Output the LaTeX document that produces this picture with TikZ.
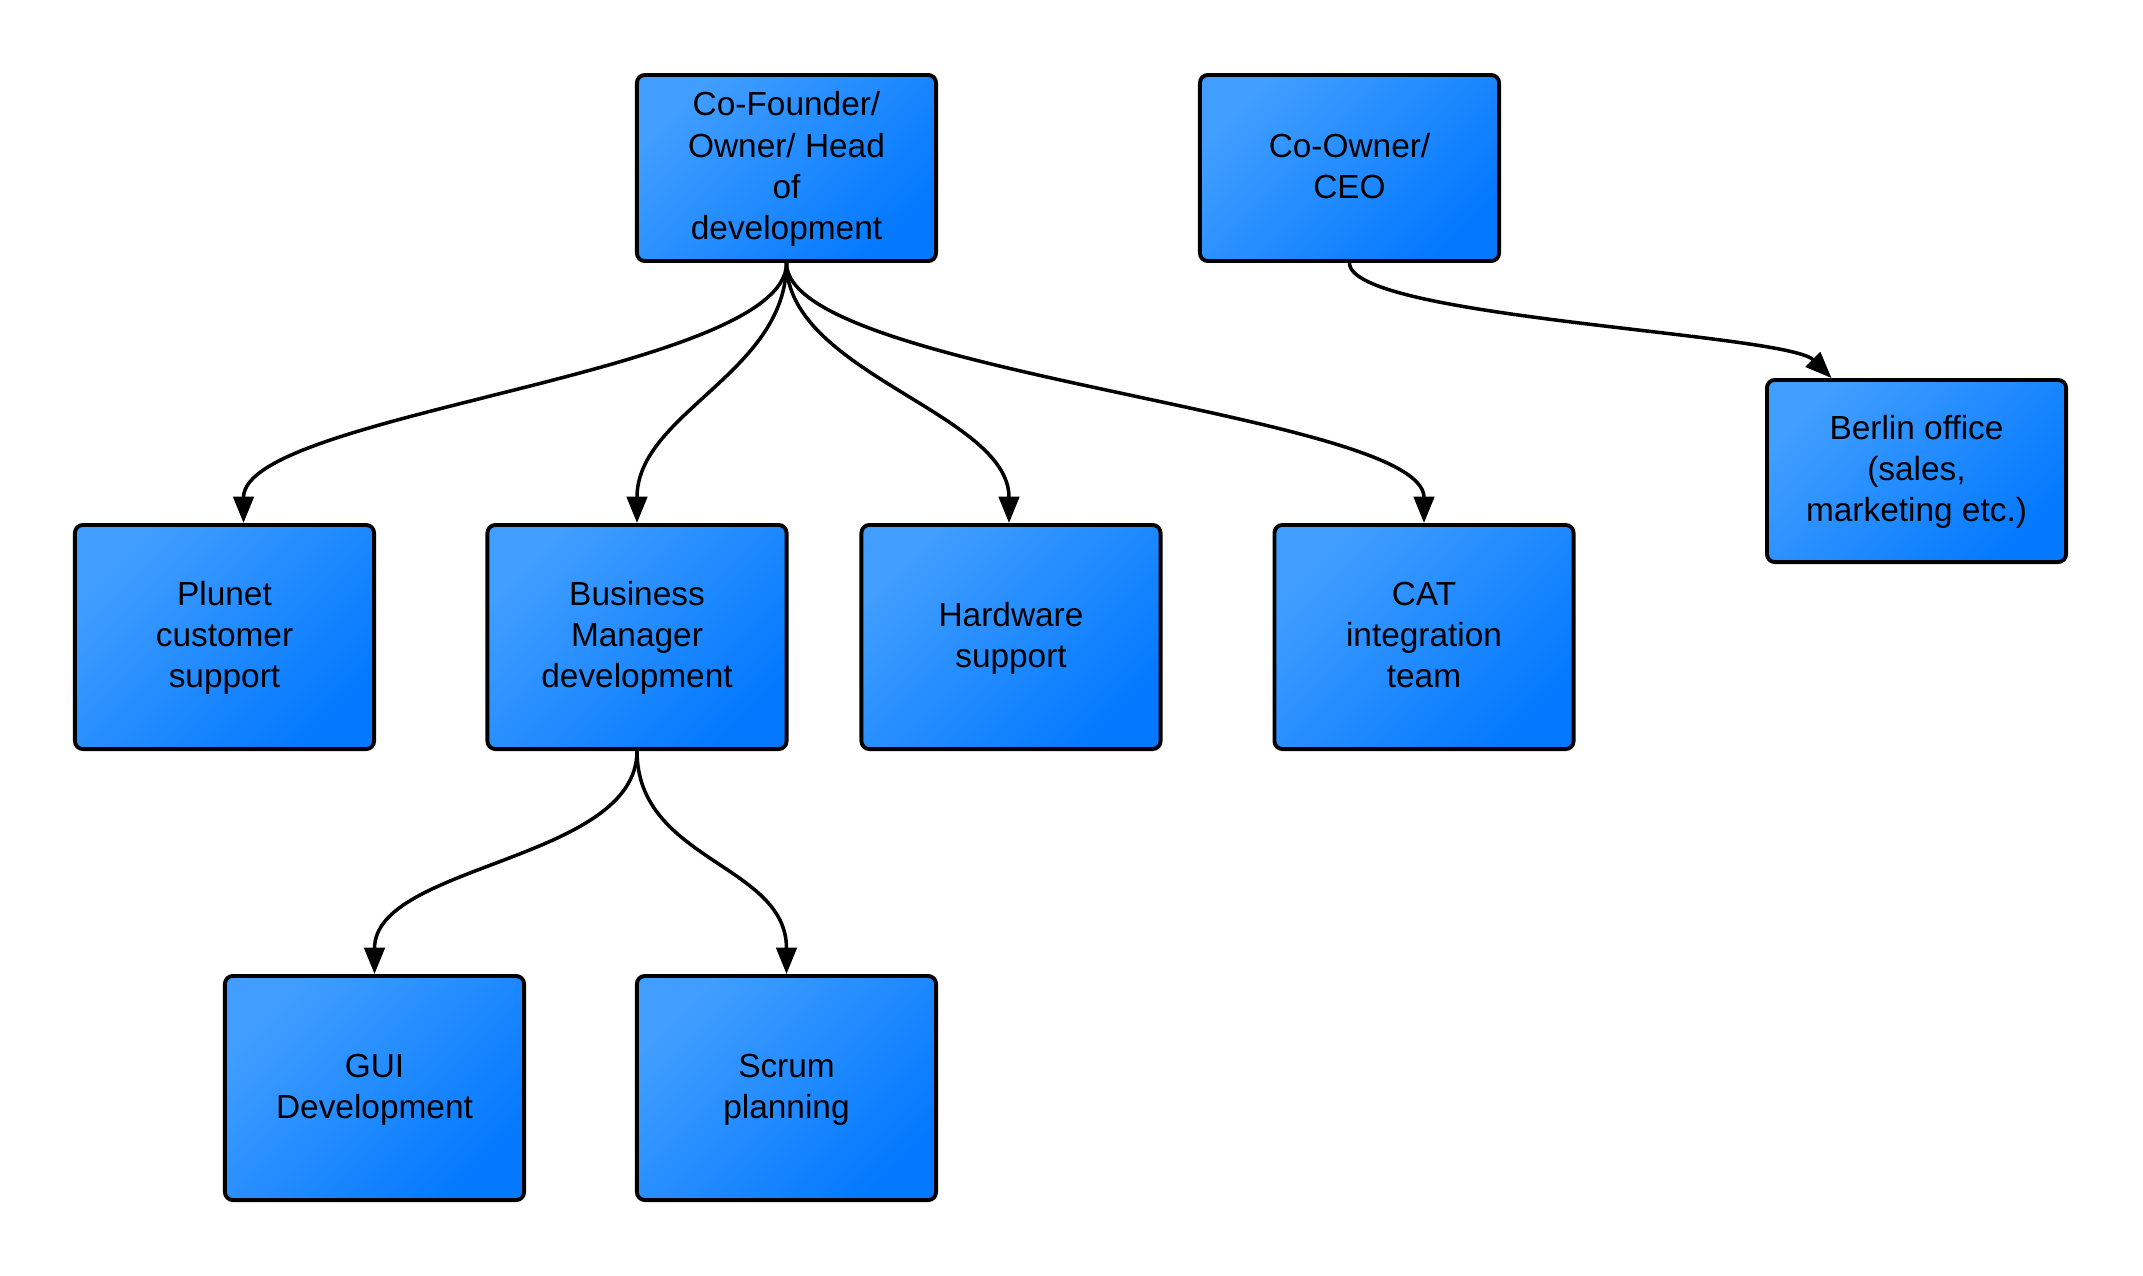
\documentclass[tikz,border=0pt]{standalone}
\usepackage{fontspec}
\setmainfont{Liberation Sans}
\usetikzlibrary{arrows.meta}
\definecolor{boxlight}{HTML}{419EFF}
\definecolor{boxdark}{HTML}{0479FF}
\newcommand\toppad{\rule{0pt}{9.0pt}}
\tikzset{
  orgbox/.style={draw=black, line width=1.1pt, rounded corners=0.08cm,
    top color=boxlight, bottom color=boxdark, shading angle=45,
    minimum width=2.99cm, align=center, font=\fontsize{9.5}{11.7}\selectfont, inner sep=0pt},
  conn/.style={draw=black, line width=1pt, -{Triangle[length=7.5pt,width=5.8pt]}}
}
\begin{document}
\begin{tikzpicture}[x=0.01cm, y=-0.01cm]
\useasboundingbox (0,0) rectangle (2143,1275);
\node[orgbox, minimum height=1.86cm] (cof) at (786.5,168) {\toppad Co-Founder/\\Owner/ Head\\of\\development\strut};
\node[orgbox, minimum height=1.86cm] (coo) at (1349.5,168) {\toppad Co-Owner/\\CEO\strut};
\node[orgbox, minimum height=1.82cm] (berlin) at (1916.5,471) {\toppad Berlin office\\(sales,\\marketing etc.)\strut};
\node[orgbox, minimum height=2.24cm] (plunet) at (224.5,637) {\toppad Plunet\\customer\\support\strut};
\node[orgbox, minimum height=2.24cm] (business) at (637,637) {\toppad Business\\Manager\\development\strut};
\node[orgbox, minimum height=2.24cm] (hardware) at (1011,637) {\toppad Hardware\\support\strut};
\node[orgbox, minimum height=2.24cm] (cat) at (1424,637) {\toppad CAT\\integration\\team\strut};
\node[orgbox, minimum height=2.24cm] (gui) at (374.5,1088) {\toppad GUI\\Development\strut};
\node[orgbox, minimum height=2.24cm] (scrum) at (786.5,1088) {\toppad Scrum\\planning\strut};
\draw[conn] (cof.south) .. controls +(0,110) and +(0,-110) .. ([xshift=0.19cm]plunet.north);
\draw[conn] (cof.south) .. controls +(0,110) and +(0,-110) .. (business.north);
\draw[conn] (cof.south) .. controls +(0,110) and +(0,-110) .. ([xshift=-0.02cm]hardware.north);
\draw[conn] (cof.south) .. controls +(0,110) and +(0,-110) .. (cat.north);
\draw[conn] (coo.south) .. controls +(0,55) and +(-45,-45) .. ([xshift=-0.85cm]berlin.north);
\draw[conn] (business.south) .. controls +(0,110) and +(0,-110) .. (gui.north);
\draw[conn] (business.south) .. controls +(0,110) and +(0,-110) .. (scrum.north);
\end{tikzpicture}
\end{document}
